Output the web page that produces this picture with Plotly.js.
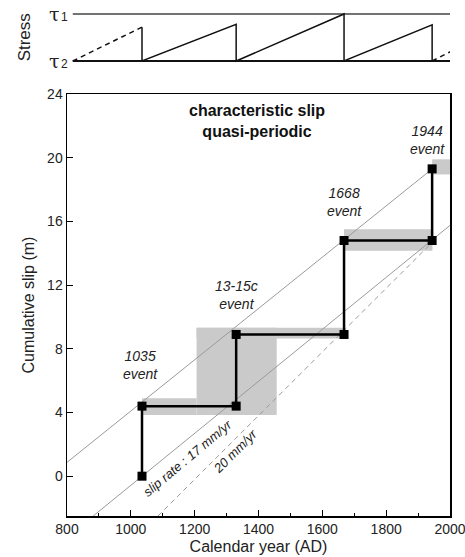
<!DOCTYPE html>
<html>
<head>
<meta charset="utf-8">
<script src="https://cdn.plot.ly/plotly-3.0.1.min.js"></script>
<style>html,body{margin:0;padding:0;background:#fff}#chart{width:465px;height:557px}</style>
</head>
<body>
<div id="chart"></div>
<script>
// ---- data ----
const eventYears = [1035, 1330, 1668, 1944];
const eventLabels = ['1035<br>event', '13-15c<br>event', '1668<br>event', '1944<br>event'];
const slipBefore = [0, 4.4, 8.9, 14.8];
const slipAfter = [4.4, 8.9, 14.8, 19.3];

// uncertainty boxes [x0, x1, y0, y1]
const boxX0 = [1035, 1206, 1206, 1668, 1944];
const boxX1 = [1206, 1457, 1668, 1945, 2000];
const boxY0 = [3.85, 3.85, 8.65, 14.15, 18.95];
const boxY1 = [4.9, 9.32, 9.32, 15.5, 19.9];

// reference slip-rate lines
const upperLineX = [800, 1955];
const upperLineY = [0.87, 19.47];
const lowerLineX = [882, 2000];
const lowerLineY = [-2.5, 15.75];
const dashLineX = [1085, 1935];
const dashLineY = [-2.5, 14.5];

// stress sawtooth (0 = tau2, 1 = tau1)
const stressDashStartX = [818, 1035];
const stressDashStartY = [0, 0.72];
const stressSolidX = [1035, 1035, 1330, 1330, 1668, 1668, 1944, 1944];
const stressSolidY = [0.72, 0, 0.78, 0, 1, 0, 0.77, 0];
const stressDashEndX = [1944, 2002];
const stressDashEndY = [0, 0.2];
const tauX = [818, 2002];
const tauLevels = [0, 1];
const tauSubs = ['2', '1'];

const xTicks = [800, 1000, 1200, 1400, 1600, 1800, 2000];
const yTicks = [0, 4, 8, 12, 16, 20, 24];

// step line
const stepX = [], stepY = [];
for (let i = 0; i < eventYears.length; i++) {
  stepX.push(eventYears[i], eventYears[i]);
  stepY.push(slipBefore[i], slipAfter[i]);
}

const FONT = 'Liberation Sans, Arial, Helvetica, sans-serif';

const shapes = boxX0.map((x0, i) => ({
  type: 'rect', xref: 'x', yref: 'y', x0: x0, x1: boxX1[i], y0: boxY0[i], y1: boxY1[i],
  fillcolor: '#cacaca', line: {width: 0}, layer: 'below'
}));

const traces = [
  {x: upperLineX, y: upperLineY, mode: 'lines', line: {color: '#9a9a9a', width: 1}, hoverinfo: 'skip'},
  {x: lowerLineX, y: lowerLineY, mode: 'lines', line: {color: '#9a9a9a', width: 1}, hoverinfo: 'skip'},
  {x: dashLineX, y: dashLineY, mode: 'lines', line: {color: '#9a9a9a', width: 1, dash: '5px,4px'}, hoverinfo: 'skip'},
  {x: stepX, y: stepY, mode: 'lines', line: {color: '#000', width: 2.5}, hoverinfo: 'skip'},
  {x: stepX, y: stepY, mode: 'markers', marker: {symbol: 'square', color: '#000', size: 9}, hoverinfo: 'skip'},
  // stress panel
  {x: tauX, y: [tauLevels[1], tauLevels[1]], xaxis: 'x2', yaxis: 'y2', mode: 'lines', line: {color: '#444', width: 1.3}, hoverinfo: 'skip'},
  {x: tauX, y: [tauLevels[0], tauLevels[0]], xaxis: 'x2', yaxis: 'y2', mode: 'lines', line: {color: '#111', width: 2}, hoverinfo: 'skip'},
  {x: stressDashStartX, y: stressDashStartY, xaxis: 'x2', yaxis: 'y2', mode: 'lines', line: {color: '#111', width: 1.5, dash: '5px,4px'}, hoverinfo: 'skip'},
  {x: stressSolidX, y: stressSolidY, xaxis: 'x2', yaxis: 'y2', mode: 'lines', line: {color: '#111', width: 1.5}, hoverinfo: 'skip'},
  {x: stressDashEndX, y: stressDashEndY, xaxis: 'x2', yaxis: 'y2', mode: 'lines', line: {color: '#111', width: 1.5, dash: '5px,4px'}, hoverinfo: 'skip'}
];

const annPos = [[1029, 7.0], [1330, 11.4], [1671, 17.2], [1928, 21.1]];
const annotations = eventLabels.map((t, i) => ({
  x: annPos[i][0], y: annPos[i][1], xref: 'x', yref: 'y', text: '<i>' + t + '</i>',
  showarrow: false, font: {family: FONT, size: 14, color: '#222'}
}));
annotations.push({
  x: 1395, y: 22.3, xref: 'x', yref: 'y', text: '<b>characteristic slip<br>quasi-periodic</b>',
  showarrow: false, font: {family: FONT, size: 16, color: '#111'}
});
annotations.push({
  x: 1176, y: 1.13, xref: 'x', yref: 'y', text: '<i>slip rate : 17 mm/yr</i>', textangle: -40,
  showarrow: false, font: {family: FONT, size: 13, color: '#222'}
});
annotations.push({
  x: 1326, y: 1.57, xref: 'x', yref: 'y', text: '<i>20 mm/yr</i>', textangle: -45,
  showarrow: false, font: {family: FONT, size: 13, color: '#222'}
});
tauLevels.forEach((lv, i) => {
  annotations.push({
    x: -0.032, y: lv, xref: 'paper', yref: 'y2', xanchor: 'center', yanchor: 'middle', text: 'τ',
    showarrow: false, font: {family: 'DejaVu Serif, serif', size: 19, color: '#222'}
  });
  annotations.push({
    x: -0.006, y: lv, xref: 'paper', yref: 'y2', xanchor: 'center', yanchor: 'middle', yshift: -3, text: tauSubs[i],
    showarrow: false, font: {family: FONT, size: 12, color: '#222'}
  });
});
annotations.push({
  x: -0.11, y: 0.5, xref: 'paper', yref: 'y2', xanchor: 'center', text: 'Stress', textangle: -90,
  showarrow: false, font: {family: FONT, size: 17, color: '#222'}
});

const layout = {
  width: 465, height: 557,
  margin: {l: 67, r: 15, t: 5, b: 41},
  paper_bgcolor: '#fff', plot_bgcolor: 'rgba(0,0,0,0)',
  showlegend: false,
  font: {family: FONT, size: 14, color: '#222'},
  xaxis: {
    domain: [0, 1], anchor: 'y', range: [800, 2000],
    tickvals: xTicks, ticks: 'inside', ticklen: 6, tickwidth: 1, tickcolor: '#000',
    minor: {dtick: 100, tick0: 800, ticks: 'inside', ticklen: 3, tickcolor: '#000'},
    showline: true, linecolor: '#000', linewidth: 1.5, mirror: true,
    showgrid: false, zeroline: false, ticklabeloverflow: 'allow',
    tickfont: {size: 14, color: '#222'},
    title: {text: 'Calendar year (AD)', font: {size: 16, color: '#222'}, standoff: 4}
  },
  yaxis: {
    domain: [0, 0.8258], anchor: 'x', range: [-2.5, 24],
    tickvals: yTicks, ticks: 'inside', ticklen: 6, tickwidth: 1, tickcolor: '#000',
    showline: true, linecolor: '#000', linewidth: 1.5, mirror: true,
    showgrid: false, zeroline: false,
    tickfont: {size: 14, color: '#222'},
    title: {text: 'Cumulative slip (m)', font: {size: 16, color: '#222'}, standoff: 8}
  },
  xaxis2: {domain: [0, 1], anchor: 'y2', range: [800, 2000], visible: false},
  yaxis2: {
    domain: [0.8812, 0.9916], anchor: 'x2', range: [-0.1, 1.1],
    showticklabels: false, ticks: '', showline: false, showgrid: false, zeroline: false
  },
  shapes: shapes,
  annotations: annotations
};

Plotly.newPlot('chart', traces, layout, {staticPlot: true, displayModeBar: false});
</script>
</body>
</html>
